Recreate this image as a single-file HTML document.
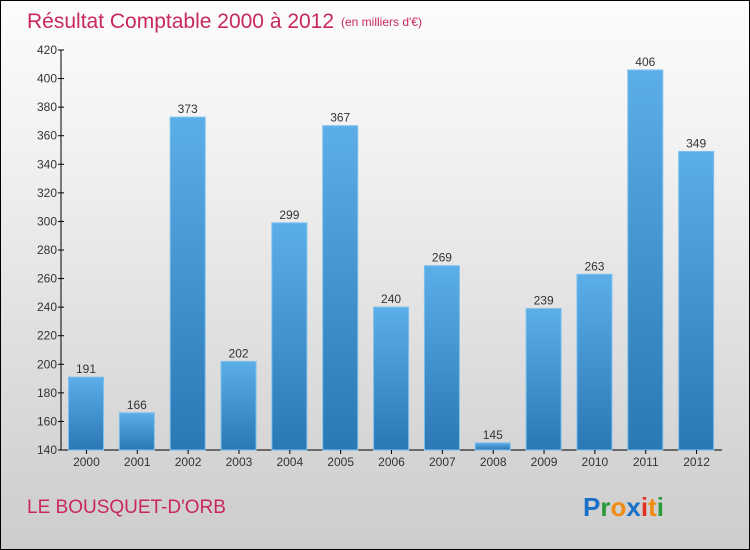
<!DOCTYPE html>
<html><head><meta charset="utf-8"><style>
body{margin:0}
#c{position:relative;width:748px;height:548px;border:1px solid #000;background:linear-gradient(#fcfcfc,#f0f0f0 30%,#d6d6d6 80%,#cdcdcd);font-family:"Liberation Sans",sans-serif;overflow:hidden}
</style></head><body>
<div id="c">
<svg width="748" height="548" id="svg">
<defs><linearGradient id="bg" x1="0" y1="0" x2="0" y2="1"><stop offset="0" stop-color="#5caee8"/><stop offset="1" stop-color="#2a78b4"/></linearGradient></defs>
<text x="26" y="27" font-size="21" fill="#c8285a">Résultat Comptable 2000 à 2012</text>
<text x="340" y="25" font-size="12" fill="#c8285a">(en milliers d'€)</text>
<text x="26" y="512" font-size="19" fill="#c8285a">LE BOUSQUET-D'ORB</text>
<g font-size="26" font-weight="bold" font-family="'Liberation Sans',sans-serif">
<text x="582" y="515"><tspan fill="#1a6fc8">P</tspan><tspan fill="#2a9a3a">r</tspan><tspan fill="#f08a10">o</tspan><tspan fill="#1a6fc8">x</tspan><tspan fill="#e03020">i</tspan><tspan fill="#f08a10">t</tspan><tspan fill="#2a9a3a">i</tspan></text>
</g>
<g id="plot"></g>
</svg>
</div>
<script>
const years=["2000","2001","2002","2003","2004","2005","2006","2007","2008","2009","2010","2011","2012"];
const values=[191,166,373,202,299,367,240,269,145,239,263,406,349];
const yTicks=[140,160,180,200,220,240,260,280,300,320,340,360,380,400,420];
const NS="http://www.w3.org/2000/svg";
const g=document.getElementById('plot');
const x0=60,x1=721,yTop=49,yBot=449,vMin=140,vMax=420;
const slot=(x1-x0)/years.length;
const y=v=>yBot-(v-vMin)/(vMax-vMin)*(yBot-yTop);
function mk(t,a,txt){const e=document.createElementNS(NS,t);for(const k in a)e.setAttribute(k,a[k]);if(txt!==undefined)e.textContent=txt;g.appendChild(e);return e;}
let ax=mk('line',{x1:x0,y1:yTop,x2:x0,y2:yBot,stroke:'#000'});


let bx=mk('line',{x1:x0,y1:yBot,x2:x1,y2:yBot,stroke:'#000'});


yTicks.forEach(v=>{
 const tk=mk('line',{x1:x0-3,y1:y(v),x2:x0+3,y2:y(v),stroke:'#000'});
 
 
 const t=mk('text',{x:x0-4,y:y(v)+4,'font-size':12,fill:'#333','text-anchor':'end'},v);
 
 
});
years.forEach((yr,i)=>{
 const bxp=x0+i*slot+7.5,w=35,v=values[i];
 const r=mk('rect',{x:bxp,y:y(v),width:w,height:yBot-y(v),fill:'url(#bg)',stroke:'#7cc0ee','stroke-width':1});
 
 
 const l=mk('text',{x:bxp+w/2,y:y(v)-4,'font-size':12,fill:'#333','text-anchor':'middle'},v);
 
 
 const xt=mk('line',{x1:x0+(i+0.5)*slot,y1:yBot,x2:x0+(i+0.5)*slot,y2:yBot+4,stroke:'#000'});
 
 
 const xl=mk('text',{x:x0+(i+0.5)*slot,y:yBot+16,'font-size':12,fill:'#333','text-anchor':'middle'},yr);
 
 
});
</script>
</body></html>
